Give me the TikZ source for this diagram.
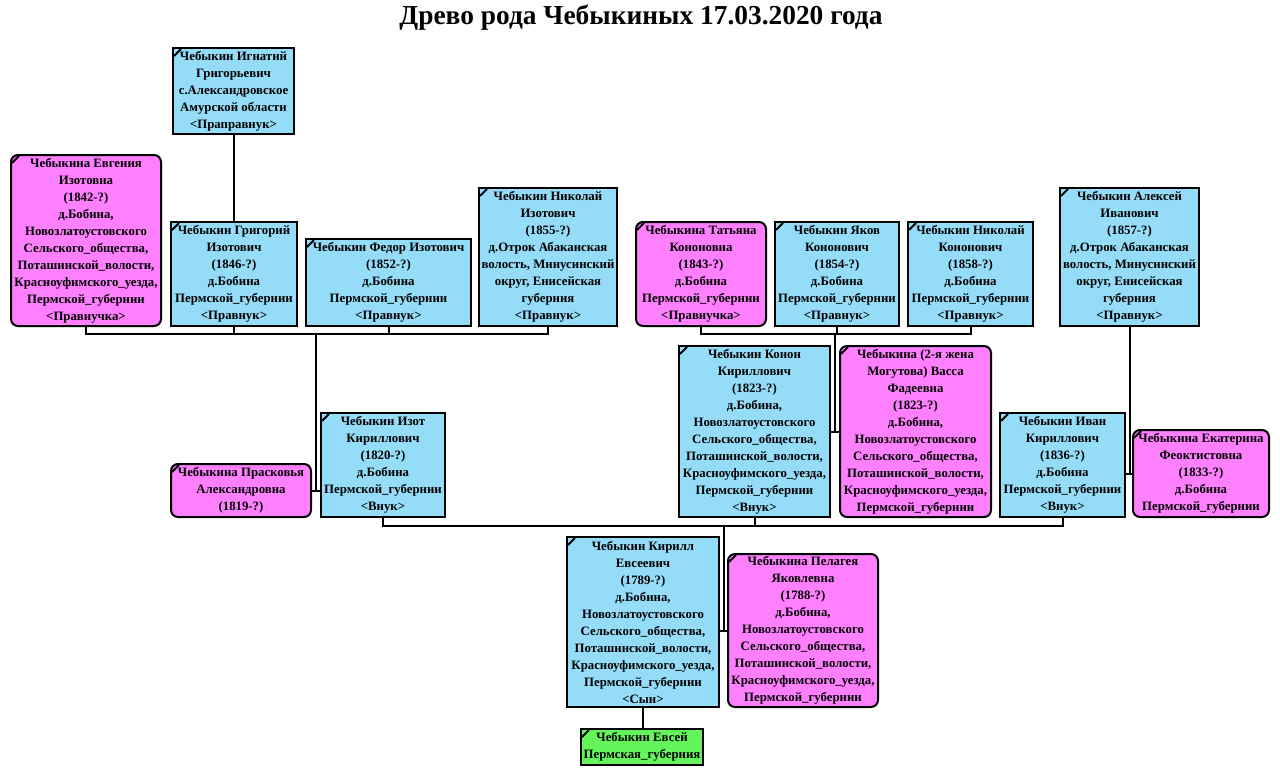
\documentclass[tikz,border=0pt]{standalone}
\usepackage{fontspec}
\setmainfont{Liberation Serif}
\usetikzlibrary{positioning}
\usetikzlibrary{calc}
\definecolor{manblue}{RGB}{148,220,248}
\definecolor{womanpink}{RGB}{255,128,255}
\definecolor{rootgreen}{RGB}{100,245,90}
\tikzset{person/.style = {draw, line width=2pt, anchor=north west, align=center,
                          inner sep=1pt, font=\bfseries\fontsize{12.8}{17}\selectfont,
                          path picture={\draw [line width=2pt]
                            ([shift={(1pt,-8pt)}]path picture bounding box.north west) -- ++(7pt,7pt);}}}
\tikzset{man/.style = {person, fill=manblue}}
\tikzset{woman/.style = {person, fill=womanpink, rounded corners=7pt}}
\tikzset{root/.style = {person, fill=rootgreen}}
\tikzset{boxsize/.style 2 args = {minimum width=#1pt, minimum height=#2pt}}
\tikzset{link/.style = {line width=2pt}}
\begin{document}
\begin{tikzpicture}[x=1pt, y=-1pt]
      \fill [white] (0, 0) rectangle (1280, 774);
      \useasboundingbox (0, 0) rectangle (1280, 774);

      \node [font=\bfseries\fontsize{27.4}{30}\selectfont] (title) at (641, 18)
        {Древо рода Чебыкиных 17.03.2020 года};

      % top generation
      \node [man, boxsize={121}{86}] (ignatiy) at (172, 47)
        {Чебыкин Игнатий\\Григорьевич\\с.Александровское\\Амурской области\\<Праправнук>};
      \node [woman, boxsize={150}{171}] (evgenia) at (10, 154)
        {Чебыкина Евгения\\Изотовна\\(1842-?)\\д.Бобина,\\Новозлатоустовского\\Сельского\_общества,\\Поташинской\_волости,\\Красноуфимского\_уезда,\\Пермской\_губернии\\<Правнучка>};
      \node [man, boxsize={126}{104}] (grigoriy) at (170, 221)
        {Чебыкин Григорий\\Изотович\\(1846-?)\\д.Бобина\\Пермской\_губернии\\<Правнук>};
      \node [man, boxsize={165}{87}] (fedor) at (305, 238)
        {Чебыкин Федор Изотович\\(1852-?)\\д.Бобина\\Пермской\_губернии\\<Правнук>};
      \node [man, boxsize={138}{138}] (nikolaiI) at (478, 187)
        {Чебыкин Николай\\Изотович\\(1855-?)\\д.Отрок Абаканская\\волость, Минусинский\\округ, Енисейская\\губерния\\<Правнук>};
      \node [woman, boxsize={130}{104}] (tatyana) at (635, 221)
        {Чебыкина Татьяна\\Кононовна\\(1843-?)\\д.Бобина\\Пермской\_губернии\\<Правнучка>};
      \node [man, boxsize={124}{104}] (yakov) at (774, 221)
        {Чебыкин Яков\\Кононович\\(1854-?)\\д.Бобина\\Пермской\_губернии\\<Правнук>};
      \node [man, boxsize={125}{104}] (nikolaiK) at (907, 221)
        {Чебыкин Николай\\Кононович\\(1858-?)\\д.Бобина\\Пермской\_губернии\\<Правнук>};
      \node [man, boxsize={139}{138}] (aleksey) at (1059, 187)
        {Чебыкин Алексей\\Иванович\\(1857-?)\\д.Отрок Абаканская\\волость, Минусинский\\округ, Енисейская\\губерния\\<Правнук>};

      % middle generation
      \node [woman, boxsize={140}{53}] (praskovya) at (170, 463)
        {Чебыкина Прасковья\\Александровна\\(1819-?)};
      \node [man, boxsize={124}{104}] (izot) at (320, 412)
        {Чебыкин Изот\\Кириллович\\(1820-?)\\д.Бобина\\Пермской\_губернии\\<Внук>};
      \node [man, boxsize={151}{171}] (konon) at (678, 345)
        {Чебыкин Конон\\Кириллович\\(1823-?)\\д.Бобина,\\Новозлатоустовского\\Сельского\_общества,\\Поташинской\_волости,\\Красноуфимского\_уезда,\\Пермской\_губернии\\<Внук>};
      \node [woman, boxsize={151}{171}] (vassa) at (839, 345)
        {Чебыкина (2-я жена\\Могутова) Васса\\Фадеевна\\(1823-?)\\д.Бобина,\\Новозлатоустовского\\Сельского\_общества,\\Поташинской\_волости,\\Красноуфимского\_уезда,\\Пермской\_губернии};
      \node [man, boxsize={125}{104}] (ivan) at (999, 412)
        {Чебыкин Иван\\Кириллович\\(1836-?)\\д.Бобина\\Пермской\_губернии\\<Внук>};
      \node [woman, boxsize={136}{87}] (ekaterina) at (1132, 429)
        {Чебыкина Екатерина\\Феоктистовна\\(1833-?)\\д.Бобина\\Пермской\_губернии};

      % bottom generation
      \node [man, boxsize={152}{170}] (kirill) at (566, 536)
        {Чебыкин Кирилл\\Евсеевич\\(1789-?)\\д.Бобина,\\Новозлатоустовского\\Сельского\_общества,\\Поташинской\_волости,\\Красноуфимского\_уезда,\\Пермской\_губернии\\<Сын>};
      \node [woman, boxsize={150}{153}] (pelageya) at (727, 553)
        {Чебыкина Пелагея\\Яковлевна\\(1788-?)\\д.Бобина,\\Новозлатоустовского\\Сельского\_общества,\\Поташинской\_волости,\\Красноуфимского\_уезда,\\Пермской\_губернии};
      \node [root, boxsize={122}{36}] (evsey) at (580, 728)
        {Чебыкин Евсей\\Пермская\_губерния};

      \coordinate (kidsrow) at (0, 334);
      \coordinate (kirillkids) at (0, 526);

      \draw [link] (ignatiy.south) -- (ignatiy.south |- grigoriy.north);

      % Izot's children
      \draw [link] (evgenia.south) |- (nikolaiI.south |- kidsrow) -- (nikolaiI.south);
      \draw [link] (grigoriy.south) -- (grigoriy.south |- kidsrow);
      \draw [link] (fedor.south) -- (fedor.south |- kidsrow);
      \draw [link] (praskovya.east) -- coordinate (izotwed) (praskovya.east -| izot.west);
      \draw [link] (izotwed) -- (izotwed |- kidsrow);

      % Konon's children
      \draw [link] (tatyana.south) |- (nikolaiK.south |- kidsrow) -- (nikolaiK.south);
      \draw [link] (yakov.south) -- (yakov.south |- kidsrow);
      \draw [link] (konon.east) -- coordinate (kononwed) (konon.east -| vassa.west);
      \draw [link] (kononwed) -- (kononwed |- kidsrow);

      % Ivan's son
      \draw [link] (ivan.east |- ekaterina.west) -- coordinate (ivanwed) (ekaterina.west);
      \draw [link] (aleksey.south) -- (aleksey.south |- ivanwed);

      % Kirill's children
      \draw [link] (izot.south) |- (ivan.south |- kirillkids) -- (ivan.south);
      \draw [link] (konon.south) -- (konon.south |- kirillkids);
      \draw [link] (kirill.east |- pelageya.west) -- coordinate (kirillwed) (pelageya.west);
      \draw [link] (kirillwed) -- (kirillwed |- kirillkids);

      \draw [link] (kirill.south) -- (kirill.south |- evsey.north);
    \end{tikzpicture}
\end{document}
